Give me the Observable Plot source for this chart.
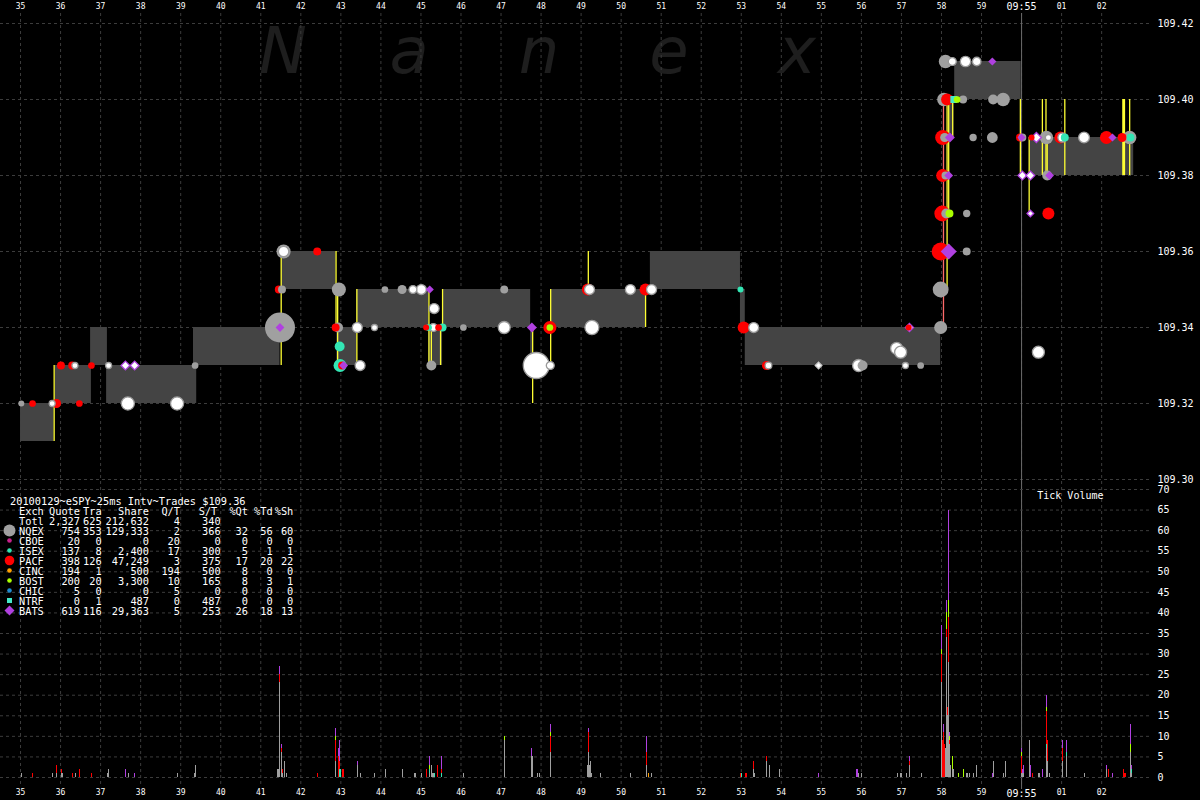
<!DOCTYPE html>
<html><head><meta charset="utf-8">
<script src="https://cdn.jsdelivr.net/npm/d3@7"></script>
<script src="https://cdn.jsdelivr.net/npm/@observablehq/plot@0.6"></script>
<style>
html,body{margin:0;padding:0;background:#000;}
#chart{position:relative;width:1200px;height:800px;background:#000;overflow:hidden;}
#chart svg{position:absolute;left:0;top:0;background:none !important;max-width:none !important;}
</style></head><body><div id="chart"></div>
<script>
// ---------------- DATA ----------------
// time axis: seconds after 09:54:00
const secTicks = [35,36,37,38,39,40,41,42,43,44,45,46,47,48,49,50,51,52,53,54,55,56,57,58,59,60,61,62];
const priceTicks = [109.30,109.32,109.34,109.36,109.38,109.40,109.42];
const volTicks = [0,5,10,15,20,25,30,35,40,45,50,55,60,65,70];
const binWidth = 0.025; // 25ms interval

// NBBO spread boxes
const spreadStart = [35.00,35.87,36.75,37.15,39.32,41.52,42.90,43.40,45.20,45.54,47.74,48.24,50.73,52.98,53.10,58.20,58.33,60.20];
const spreadEnd   = [35.84,36.77,37.17,39.40,41.48,42.88,43.40,45.20,45.54,47.74,47.80,50.61,52.98,53.10,57.98,58.31,59.99,62.80];
const spreadBid   = [109.31,109.32,109.33,109.32,109.33,109.35,109.33,109.34,109.33,109.34,109.33,109.34,109.35,109.34,109.33,109.39,109.40,109.38];
const spreadAsk   = [109.32,109.33,109.34,109.33,109.34,109.36,109.34,109.35,109.34,109.35,109.34,109.35,109.36,109.35,109.34,109.40,109.41,109.39];

// quote change lines
const lineTime = [35.84,41.51,42.88,42.92,43.40,45.20,45.26,45.49,45.54,47.79,48.24,49.18,50.61,58.14,58.18,58.28,59.97,60.19,60.52,60.61,60.64,61.08,62.53,62.55,62.57,62.70,58.05];
const lineLow  = [109.31,109.33,109.34,109.33,109.33,109.33,109.33,109.33,109.34,109.32,109.33,109.35,109.34,109.35,109.37,109.39,109.38,109.37,109.38,109.38,109.38,109.38,109.38,109.38,109.38,109.38,109.34];
const lineHigh = [109.33,109.36,109.36,109.35,109.35,109.35,109.34,109.34,109.35,109.34,109.35,109.36,109.35,109.40,109.40,109.40,109.40,109.39,109.40,109.40,109.39,109.40,109.40,109.40,109.40,109.40,109.40];
const lineKind = ["Q","Q","Q","Q","Q","Q","Q","Q","Q","Q","Q","Q","Q","Q","Q","Q","Q","Q","Q","Q","Q","Q","Q","Q","Q","Q","P"];

// trades: Q=NQEX I=ISEX P=PACF T=BOST N=NTRF B=BATS, W=white, WB=white diamond (BATS outline), WD=white diamond
const dotTime = [
 35.02,35.30,35.79,35.90,36.47,37.68,38.91,
 36.01,36.29,36.36,36.77,37.20,37.62,37.85,39.36,
 41.48,41.48,42.87,42.93,43.41,43.84,45.13,45.19,45.31,45.44,45.54,46.06,47.08,47.77,48.22,48.22,49.27,
 41.45,41.53,42.95,44.10,44.53,44.80,45.01,45.22,47.08,49.17,49.21,50.23,50.61,50.76,52.98,
 41.57,41.57,42.41,
 45.33,42.97,42.98,43.03,43.07,43.48,45.26,47.88,48.23,
 53.06,53.31,53.63,53.68,54.93,55.93,56.03,56.88,56.98,57.10,57.48,57.18,57.20,
 57.98,57.98,57.98,58.18,58.63,58.02,58.12,58.20,58.63,58.03,58.10,58.18,58.03,58.08,58.21,58.79,59.27,58.06,58.14,58.31,58.39,58.54,59.29,59.54,58.10,58.27,58.60,58.88,59.27,
 59.96,60.02,60.00,60.25,60.37,60.62,60.67,60.97,61.02,61.08,61.56,62.12,62.27,62.51,62.70,62.72,60.02,60.22,60.64,60.70,60.22,60.67,60.42];
const dotPrice = [
 109.32,109.32,109.32,109.32,109.32,109.32,109.32,
 109.33,109.33,109.33,109.33,109.33,109.33,109.33,109.33,
 109.34,109.34,109.34,109.34,109.34,109.34,109.34,109.34,109.34,109.34,109.34,109.34,109.34,109.34,109.34,109.34,109.34,
 109.35,109.35,109.35,109.35,109.35,109.35,109.35,109.35,109.35,109.35,109.35,109.35,109.35,109.35,109.35,
 109.36,109.36,109.36,
 109.345,109.335,109.33,109.33,109.33,109.33,109.33,109.33,109.33,
 109.34,109.34,109.33,109.33,109.33,109.33,109.33,109.3345,109.3335,109.33,109.33,109.34,109.34,
 109.34,109.35,109.36,109.36,109.36,109.37,109.37,109.37,109.37,109.38,109.38,109.38,109.39,109.39,109.39,109.39,109.39,109.40,109.40,109.40,109.40,109.40,109.40,109.40,109.41,109.41,109.41,109.41,109.41,
 109.39,109.39,109.39,109.39,109.39,109.39,109.39,109.39,109.39,109.39,109.39,109.39,109.39,109.39,109.39,109.39,109.38,109.38,109.38,109.38,109.37,109.37,109.3335];
const dotExch = [
 "Q","P","W","P","P","W","W",
 "P","P","W","P","W","WB","WB","Q",
 "Q","B","P","Q","W","W","P","I","W","P","I","Q","W","B","P","T","W",
 "P","Q","Q","Q","Q","W","W","B","Q","P","W","W","P","W","I",
 "Q","W","P",
 "W","I","I","P","B","W","Q","W","W",
 "P","W","P","W","WD","W","Q","W","W","W","Q","P","WB",
 "Q","Q","P","B","Q","P","Q","T","Q","P","Q","B","P","Q","B","Q","Q","Q","P","N","T","Q","Q","Q","Q","W","W","W","B",
 "P","Q","B","P","WB","Q","W","P","W","I","W","P","B","P","Q","I","WB","WB","Q","B","WB","P","W"];
const dotShares = [
 400,500,400,900,500,1900,1900,
 700,700,400,500,400,700,700,500,
 10000,700,700,1100,1100,400,400,500,700,500,700,500,1600,900,1900,500,2200,
 700,700,2200,500,900,700,1100,600,700,1600,1100,1100,1600,1100,400,
 2200,1200,700,
 1100,1100,1900,700,700,1100,1100,7500,700,
 1600,1100,900,500,400,1600,1100,1600,1600,400,500,400,600,
 1900,2800,3600,2300,700,2800,1100,700,600,1900,700,700,2500,900,900,600,1300,2000,1600,700,500,700,1100,2000,2000,700,1200,800,600,
 700,700,600,400,900,2000,400,1600,900,700,1300,1900,600,900,2000,700,700,700,1100,700,400,1600,1600];

// tick volume per 25ms bin, by exchange
const volTime = [35.03,35.31,35.81,35.89,36.02,36.04,36.31,36.38,36.48,36.78,37.18,37.20,37.63,37.70,37.85,38.93,39.35,39.38,41.42,41.44,41.48,41.52,41.55,41.60,41.65,42.42,42.87,42.95,42.97,43.00,43.05,43.07,43.42,43.50,43.85,44.12,44.55,44.83,44.86,45.02,45.15,45.22,45.27,45.30,45.32,45.35,45.42,45.52,46.07,47.09,47.77,47.79,47.92,47.97,48.23,49.17,49.19,49.22,49.24,49.27,49.49,50.24,50.64,50.69,50.77,52.98,53.01,53.10,53.14,53.31,53.34,53.64,53.71,53.96,54.94,55.87,55.90,55.92,56.01,56.89,56.97,57.00,57.12,57.19,57.50,58.01,58.03,58.06,58.08,58.11,58.13,58.16,58.18,58.21,58.23,58.28,58.31,58.43,58.55,58.63,58.65,58.69,58.81,58.88,59.27,59.30,59.56,59.61,59.99,60.02,60.05,60.21,60.23,60.28,60.42,60.46,60.53,60.62,60.66,60.71,61.03,61.11,61.58,62.12,62.16,62.28,62.55,62.58,62.60,62.73,62.75];
const volNQEX = [1,0,1,1,1,1,0,1,0,0,1,2,0,1,0,1,1,3,2,2,23,6,1,4,1,0,4,0,0,0,0,0,3,1,1,2,2,1,1,1,0,1,3,1,1,0,0,0,1,9,5,5,1,1,6,3,6,3,4,1,1,1,3,0,1,0,0,0,0,2,1,4,3,2,0,0,0,1,1,1,1,1,1,3,1,23,0,0,0,7,34,15,28,8,3,2,2,0,0,1,1,1,1,3,0,4,1,4,1,1,1,9,0,0,1,1,0,7,4,1,4,5,1,2,0,0,0,0,0,6,1];
const volISEX = [0,0,0,0,0,0,0,0,0,0,0,0,0,0,0,0,0,0,0,0,0,0,0,0,0,0,0,0,2,2,0,0,0,0,0,0,0,0,0,0,0,1,0,0,0,1,0,1,0,0,0,0,0,0,0,0,0,0,0,0,0,0,0,0,0,0,1,0,0,0,0,0,0,0,0,0,0,0,0,0,0,0,0,0,0,0,0,0,0,0,0,0,0,0,0,0,0,0,0,0,0,0,0,0,0,0,0,0,0,0,0,0,0,0,0,0,0,1,0,0,0,1,0,0,0,0,0,0,0,0,1];
const volPACF = [0,1,0,2,1,0,1,0,2,1,0,0,0,0,0,0,0,0,0,0,2,1,1,0,0,1,5,5,2,0,2,2,0,0,0,0,0,0,0,0,2,0,0,0,0,0,3,1,0,0,0,0,0,0,4,0,5,0,0,0,0,0,3,0,0,1,0,1,1,2,0,1,0,0,0,0,0,0,0,0,0,0,0,1,0,7,9,11,8,0,2,2,11,1,0,0,0,0,0,0,0,0,0,0,0,0,0,0,4,0,0,0,0,1,0,0,0,8,5,0,3,0,0,0,2,0,2,1,1,0,0];
const volCINC = [0,0,0,0,0,0,0,0,0,0,0,0,0,0,0,0,0,0,0,0,0,0,0,0,0,0,0,0,0,0,0,0,0,0,0,0,0,0,0,0,0,0,0,0,0,0,0,0,0,0,0,0,0,0,0,0,0,0,0,0,0,0,0,1,0,0,0,0,0,0,0,0,0,0,0,0,0,0,0,0,0,0,0,0,0,0,0,0,0,0,0,0,0,0,0,0,0,0,0,0,0,0,0,0,0,0,0,0,0,0,0,0,0,0,0,0,0,0,0,0,0,0,0,0,0,0,0,0,0,0,0];
const volBOST = [0,0,0,0,0,0,0,0,0,0,0,0,0,0,0,0,0,0,0,0,0,0,0,0,0,0,1,0,0,0,0,0,0,0,0,0,0,0,0,0,0,1,0,0,0,0,0,0,0,1,0,0,0,0,1,0,0,0,0,0,0,0,0,0,0,0,0,0,0,0,0,0,0,0,0,0,0,0,0,0,0,0,0,0,0,1,0,0,0,0,4,0,4,1,0,3,0,1,2,0,0,0,0,0,0,0,0,0,1,0,0,0,0,0,0,0,0,1,0,0,0,0,0,0,0,0,0,0,0,2,0];
const volBATS = [0,0,0,0,0,0,0,0,0,0,0,0,2,0,1,0,0,0,0,0,2,1,0,0,0,0,2,2,5,0,0,0,1,0,0,0,0,0,0,0,0,2,0,0,0,0,0,3,0,0,2,0,0,0,2,0,1,0,0,0,0,0,4,0,0,0,0,0,0,0,0,0,0,0,1,2,2,0,0,0,0,0,0,1,0,6,0,2,0,0,3,0,22,1,0,0,0,0,0,0,0,0,0,0,1,0,0,0,1,1,2,0,3,0,0,0,2,3,0,0,2,3,0,1,0,1,0,0,0,5,1];

// summary table
const legendTitle = "20100129~eSPY~25ms Intv~Trades $109.36";
const legendHeaders = ["Quote","Tra","Share","Q/T","S/T","%Qt","%Td","%Sh"];
const legendExch   = ["NQEX","CBOE","ISEX","PACF","CINC","BOST","CHIC","NTRF","BATS"];
const legendQuote  = [754,20,137,398,194,200,5,0,619];
const legendTrades = [353,0,8,126,1,20,0,1,116];
const legendShares = [129333,0,2400,47249,500,3300,0,487,29363];
const legendQT     = [2,20,17,3,194,10,5,0,5];
const legendST     = [366,0,300,375,500,165,0,487,253];
const legendPctQt  = [32,0,5,17,8,8,0,0,26];
const legendPctTd  = [56,0,1,20,0,3,0,0,18];
const legendPctSh  = [60,0,1,22,0,1,0,0,13];
const totalRow = ["Totl", 2327, 625, 212632, 4, 340];

// ---------------- STYLES ----------------
const EXFILL = {NQEX:"#a0a0a0",CBOE:"#c8208c",ISEX:"#33e6b4",PACF:"#ff0000",CINC:"#ffa000",BOST:"#aaff00",CHIC:"#1e8cd2",NTRF:"#44e8c8",BATS:"#b040e0"};
const CODE = {Q:"NQEX",I:"ISEX",P:"PACF",T:"BOST",N:"NTRF",B:"BATS",O:"CINC"};
const DOTFILL = c => CODE[c] ? EXFILL[CODE[c]] : "#ffffff";
const DOTSTROKE = c => c === "W" ? "#9a9a9a" : c === "WB" ? "#b040e0" : c === "WD" ? "#cccccc" : "none";
const DOTSYMBOL = c => (c === "B" || c === "WB" || c === "WD") ? "diamond2" : c === "N" ? "square" : "circle";
const GRID = "#3c3c3c";
const FONT = "DejaVu Sans Mono, monospace";
const fmtSec = t => t === 60 ? "09:55" : t > 60 ? "0" + (t - 60) : String(t);

// ---------------- TABLES ----------------
const spreads = spreadStart.map((t, i) => ({t1: t, t2: spreadEnd[i], bid: spreadBid[i], ask: spreadAsk[i]}));
const qlines = lineTime.map((t, i) => ({t, lo: lineLow[i], hi: lineHigh[i], kind: lineKind[i]}));
const dots = d3.sort(dotTime.map((t, i) => ({t, p: dotPrice[i], ex: dotExch[i], s: dotShares[i]})), d => -d.s);
const volSeries = [["NQEX", volNQEX], ["ISEX", volISEX], ["PACF", volPACF], ["CINC", volCINC], ["BOST", volBOST], ["BATS", volBATS]];
const volRows = [];
volTime.forEach((t, i) => { for (const [ex, arr] of volSeries) if (arr[i]) volRows.push({t, ex, n: arr[i]}); });

const chart = document.getElementById("chart");
const xDomain = [34.5, 63.27];
const minorTicks = secTicks.filter(t => t !== 60);

// watermark
const wm = d3.select(chart).append("svg").attr("width", 1200).attr("height", 800);
[["N",283],["a",409],["n",539],["e",669],["x",797]].forEach(([ch, x]) =>
  wm.append("text").attr("x", x).attr("y", 73).attr("text-anchor", "middle")
    .attr("font-family", "DejaVu Sans, sans-serif").attr("font-style", "italic")
    .attr("font-size", 64).attr("fill", "#1e1e1e").text(ch));

// ---------------- PRICE PANEL ----------------
const price = Plot.plot({
  width: 1200, height: 800,
  marginLeft: 0, marginRight: 48, marginTop: 23, marginBottom: 321,
  x: {domain: xDomain, label: null},
  y: {domain: [109.30, 109.42], label: null},
  r: {type: "sqrt", domain: [0, 10000], range: [0, 15]},
  style: {background: "none", color: "#fff", fontFamily: FONT, fontSize: "10px"},
  marks: [
    Plot.gridX(secTicks, {stroke: GRID, strokeOpacity: 1, strokeDasharray: "3,3", insetTop: -10, insetBottom: -305}),
    Plot.gridY(priceTicks, {stroke: GRID, strokeOpacity: 1, strokeDasharray: "3,3"}),
    Plot.rect(spreads, {x1: "t1", x2: "t2", y1: "bid", y2: "ask", fill: "#444444"}),
    Plot.ruleX(qlines, {x: "t", y1: "lo", y2: "hi", stroke: d => d.kind === "P" ? "#ff6a6a" : "#ffff33", strokeWidth: 1.3}),
    Plot.ruleX([60], {stroke: "#6a6a6a", strokeWidth: 1, insetTop: -10, insetBottom: -310}),
    Plot.dot(dots, {x: "t", y: "p", r: "s", symbol: d => DOTSYMBOL(d.ex), fill: d => DOTFILL(d.ex), stroke: d => DOTSTROKE(d.ex), strokeWidth: 1.3}),
    Plot.axisY(priceTicks, {anchor: "right", tickSize: 0, tickPadding: 5, tickFormat: d3.format(".2f"), label: null, fill: "#fff", fontSize: 10}),
    Plot.axisX(minorTicks, {anchor: "top", tickSize: 0, tickPadding: 14.5, tickFormat: fmtSec, label: null, fill: "#fff", fontSize: 8}),
    Plot.axisX([60], {anchor: "top", tickSize: 0, tickPadding: 13.5, tickFormat: fmtSec, label: null, fill: "#fff", fontSize: 10})
  ]
});
chart.appendChild(price);

// ---------------- VOLUME PANEL ----------------
const volume = Plot.plot({
  width: 1200, height: 800,
  marginLeft: 0, marginRight: 48, marginTop: 489, marginBottom: 23,
  x: {domain: xDomain, label: null},
  y: {domain: [0, 70], label: null},
  style: {background: "none", color: "#fff", fontFamily: FONT, fontSize: "10px"},
  marks: [
    Plot.gridY(volTicks, {stroke: GRID, strokeOpacity: 1, strokeDasharray: "3,3"}),
    Plot.rectY(volRows, {x1: "t", x2: d => d.t + binWidth, y: "n", z: "ex", fill: d => EXFILL[d.ex], order: legendExch, shapeRendering: "crispEdges"}),
    Plot.axisY(volTicks, {anchor: "right", tickSize: 0, tickPadding: 5, label: null, fill: "#fff", fontSize: 10}),
    Plot.axisX(minorTicks, {anchor: "bottom", tickSize: 0, tickPadding: 12, tickFormat: fmtSec, label: null, fill: "#fff", fontSize: 8}),
    Plot.axisX([60], {anchor: "bottom", tickSize: 0, tickPadding: 12.5, tickFormat: fmtSec, label: null, fill: "#fff", fontSize: 10}),
    Plot.text(["Tick Volume"], {frameAnchor: "top-right", dx: -49, dy: 2, lineAnchor: "top", fill: "#fff", fontSize: 10})
  ]
});
chart.appendChild(volume);

// ---------------- SUMMARY TABLE ----------------
const leg = d3.select(chart).append("svg").attr("width", 1200).attr("height", 800);
const tg = leg.append("g").attr("font-family", FONT).attr("font-size", "10.3px").attr("fill", "#fff");
const colX = [80, 101.7, 149, 180, 220.7, 248, 272.7, 293.3];
const headX = [80, 101.7, 149, 180, 217.3, 248, 272.7, 293.3];
const fmtN = d3.format(",");
const row = (y, name, vals, xs) => {
  tg.append("text").attr("x", 19).attr("y", y).attr("dominant-baseline", "central").text(name);
  vals.forEach((v, j) => tg.append("text").attr("x", xs[j]).attr("y", y).attr("text-anchor", "end").attr("dominant-baseline", "central").text(v));
};
tg.append("text").attr("x", 10).attr("y", 500.5).attr("dominant-baseline", "central").text(legendTitle);
row(510.5, "Exch", legendHeaders, headX);
row(520.5, totalRow[0], totalRow.slice(1).map(v => fmtN(v)), colX);
legendExch.forEach((ex, i) => {
  const y = 530.5 + i * 10;
  row(y, ex, [legendQuote[i], legendTrades[i], legendShares[i], legendQT[i], legendST[i], legendPctQt[i], legendPctTd[i], legendPctSh[i]].map(v => fmtN(v)), colX);
  const c = EXFILL[ex], mx = 9.5;
  if (ex === "BATS") leg.append("path").attr("d", `M${mx},${y-5}L${mx+5},${y}L${mx},${y+5}L${mx-5},${y}Z`).attr("fill", c);
  else if (ex === "NTRF") leg.append("rect").attr("x", mx-2.5).attr("y", y-2.5).attr("width", 5).attr("height", 5).attr("fill", c);
  else leg.append("circle").attr("cx", mx).attr("cy", y).attr("r", ex === "NQEX" ? 6 : ex === "PACF" ? 4.8 : 2.3).attr("fill", c);
});
</script></body></html>
